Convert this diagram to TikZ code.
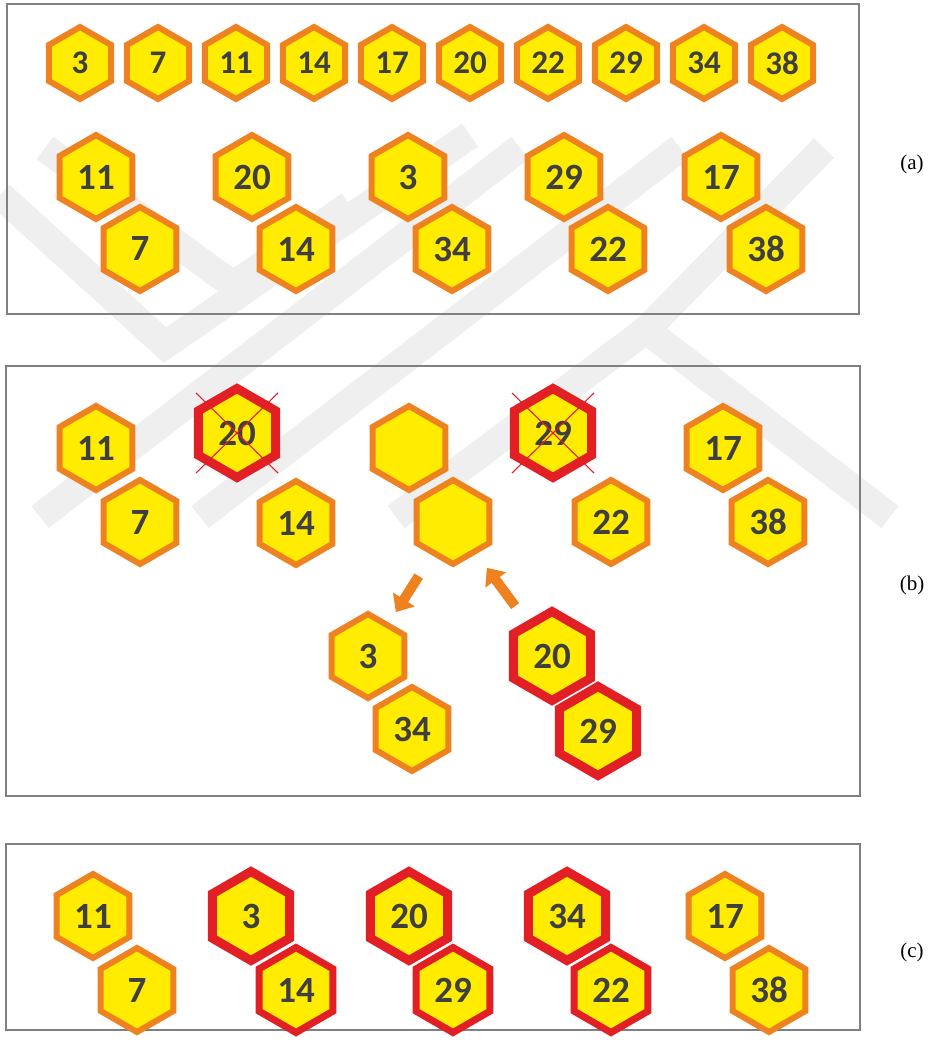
\documentclass[tikz,border=0pt]{standalone}
\usepackage{fontspec}
\setmainfont{Liberation Serif}
\newfontfamily\hexfont{Carlito}
\usetikzlibrary{shapes.geometric,arrows.meta}
\definecolor{cYellow}{HTML}{FFEC00}
\definecolor{cOrange}{HTML}{EF8220}
\definecolor{cRed}{HTML}{E31F26}
\definecolor{cText}{HTML}{3F3F3F}
\definecolor{cFrame}{HTML}{808080}
\definecolor{cMark}{HTML}{EFEFEF}

\begin{document}
\begin{tikzpicture}[x=1pt, y=-1pt,
    hexsmall/.style={regular polygon, regular polygon sides=6, regular polygon rotate=30,
        minimum size=72pt, inner sep=0pt,
        draw=cOrange, fill=cYellow, line width=6pt, text=cText,
        font=\hexfont\bfseries\fontsize{33}{33}\selectfont},
    hexbig/.style={hexsmall, minimum size=84pt, font=\hexfont\bfseries\fontsize{37}{37}\selectfont},
    hexredbig/.style={hexbig, draw=cRed, minimum size=89pt, line width=9pt},
    hexredsmall/.style={hexbig, draw=cRed, minimum size=85pt, line width=7pt},
    frame/.style={draw=cFrame, line width=2pt},
    sublabel/.style={font=\fontsize{21}{21}\selectfont},
    crossline/.style={draw=cRed, line width=1.1pt},
    movearrow/.style={draw=cOrange, line width=10pt, -{Triangle[width=25pt,length=15pt]}},
    watermark/.style={draw=cMark, line width=28pt, line join=miter}]
    \useasboundingbox (0,0) rectangle (937,1059);

    % watermark in the background
    \draw[watermark] (45,148) -- (233,285) -- (350,205);
    \draw[watermark] (0,195) -- (165,345) -- (470,135);
    \draw[watermark] (40,517) -- (520,148);
    \draw[watermark] (200,517) -- (680,148);
    \draw[watermark] (396,517) -- (646,330) -- (890,517);
    \draw[watermark] (646,330) -- (824,148);

    % (a) sorted row and the pairs
    \draw[frame] (7,4) rectangle (859,314);
    \node[hexsmall] (a3)  at (80,63)  {3};
    \node[hexsmall] (a7)  at (158,63) {7};
    \node[hexsmall] (a11) at (236,63) {11};
    \node[hexsmall] (a14) at (314,63) {14};
    \node[hexsmall] (a17) at (392,63) {17};
    \node[hexsmall] (a20) at (470,63) {20};
    \node[hexsmall] (a22) at (548,63) {22};
    \node[hexsmall] (a29) at (626,63) {29};
    \node[hexsmall] (a34) at (704,63) {34};
    \node[hexsmall] (a38) at (782,63) {38};

    \node[hexbig] (p11) at (96,177)  {11};
    \node[hexbig] (p7)  at (140,249) {7};
    \node[hexbig] (p20) at (252,177) {20};
    \node[hexbig] (p14) at (296,249) {14};
    \node[hexbig] (p3)  at (408,177) {3};
    \node[hexbig] (p34) at (452,249) {34};
    \node[hexbig] (p29) at (564,177) {29};
    \node[hexbig] (p22) at (608,249) {22};
    \node[hexbig] (p17) at (721,177) {17};
    \node[hexbig] (p38) at (766,249) {38};
    \node[sublabel] (la) at (912,164) {(a)};

    % (b) two pairs are swapped
    \draw[frame] (6,366) rectangle (860,796);
    \node[hexbig] (b11) at (96,448)  {11};
    \node[hexbig] (b7)  at (140,522) {7};
    \node[hexredbig] (x20) at (237,433) {20};
    \node[hexbig] (b14) at (296,523) {14};
    \node[hexbig] (e1)  at (409,448) {};
    \node[hexbig] (e2)  at (453,522) {};
    \node[hexredbig] (x29) at (553,433) {29};
    \node[hexbig] (b22) at (611,522) {22};
    \node[hexbig] (b17) at (723,448) {17};
    \node[hexbig] (b38) at (768,522) {38};
    \draw[crossline] (x20.center) ++(-41,-40) -- ++(82,80);
    \draw[crossline] (x20.center) ++(41,-40) -- ++(-82,80);
    \draw[crossline] (x29.center) ++(-41,-40) -- ++(82,80);
    \draw[crossline] (x29.center) ++(41,-40) -- ++(-82,80);

    \node[hexbig] (b3)  at (368,656) {3};
    \node[hexbig] (b34) at (412,729) {34};
    \node[hexredbig] (r20) at (552,656) {20};
    \node[hexredbig] (r29) at (598,731) {29};
    \draw[movearrow, shorten <=64pt, shorten >=52pt] (e2.center) -- (b3.center);
    \draw[movearrow, shorten <=62pt, shorten >=57pt] (r20.center) -- (e2.center);
    \node[sublabel] (lb) at (912,585) {(b)};

    % (c) result
    \draw[frame] (6,844) rectangle (860,1030);
    \node[hexbig] (c11) at (93,916)  {11};
    \node[hexbig] (c7)  at (137,990) {7};
    \node[hexredbig] (c3)  at (251,916) {3};
    \node[hexredsmall] (c14) at (296,990) {14};
    \node[hexredbig] (c20) at (409,916) {20};
    \node[hexredsmall] (c29) at (453,990) {29};
    \node[hexredbig] (c34) at (567,916) {34};
    \node[hexredsmall] (c22) at (611,990) {22};
    \node[hexbig] (c17) at (725,916) {17};
    \node[hexbig] (c38) at (769,990) {38};
    \node[sublabel] (lc) at (912,952) {(c)};
\end{tikzpicture}
\end{document}
